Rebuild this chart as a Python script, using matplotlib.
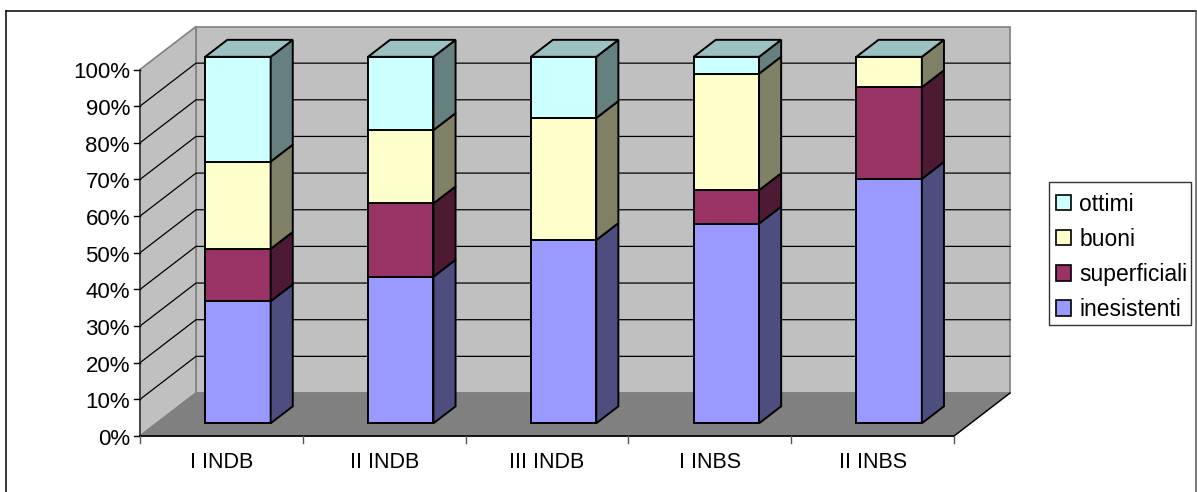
#!/usr/bin/env python3
import numpy as np
import matplotlib
matplotlib.use("Agg")
import matplotlib.pyplot as plt
from matplotlib.patches import Patch, Polygon, Rectangle

plt.rcParams['font.family'] = ['Liberation Sans', 'DejaVu Sans']

categories = ["I INDB", "II INDB", "III INDB", "I INBS", "II INBS"]
inesistenti = [33.3, 40.0, 50.0, 54.5, 66.7]
superficiali = [14.3, 20.0, 0.0, 9.1, 25.0]
buoni = [23.8, 20.0, 33.3, 31.8, 8.3]
ottimi = [28.6, 20.0, 16.7, 4.6, 0.0]

series = [inesistenti, superficiali, buoni, ottimi]
names = ["inesistenti", "superficiali", "buoni", "ottimi"]
front_cols = ["#9999FF", "#993366", "#FFFFCC", "#CCFFFF"]
side_cols = ["#4D4D80", "#4D1A33", "#808066", "#668080"]
top_col = "#9BC2C0"

W, H = 1197, 492
# pixel size of one category / one percent, and where the front origin sits
cat_px = 162.8
pct_px = 3.665
x0_px, y0_px = 140, 436
# full depth of the 3d box in data units
dx = 56 / cat_px
dy = 43 / pct_px
bar_w = 0.402
d0, d1 = 0.295, 0.69


def proj(x, pct, d=0.0):
    return (x + d * dx, pct + d * dy)


def poly(ax, pts, fc, ec, lw, z):
    ax.add_patch(Polygon(pts, closed=True, facecolor=fc, edgecolor=ec,
                         linewidth=lw, zorder=z, joinstyle='miter'))


fig = plt.figure(figsize=(W / 100, H / 100), dpi=100)
ax = fig.add_axes([0, 0, 1, 1])
ax.set_xlim(-x0_px / cat_px, (W - x0_px) / cat_px)
ax.set_ylim((y0_px - H) / pct_px, y0_px / pct_px)
ax.axis('off')

n = len(categories)

# outer frame, its bottom edge is cut off by the image
ax.plot([5.5 / cat_px + ax.get_xlim()[0]] * 2, [ax.get_ylim()[0], (y0_px - 10.5) / pct_px],
        color='black', lw=1.1, zorder=1)
ax.plot([5.5 / cat_px + ax.get_xlim()[0], 1196 / cat_px + ax.get_xlim()[0]],
        [(y0_px - 10.5) / pct_px] * 2, color='black', lw=1.1, zorder=1)
ax.plot([1196 / cat_px + ax.get_xlim()[0]] * 2, [ax.get_ylim()[0], (y0_px - 10.5) / pct_px],
        color='#555555', lw=1.1, zorder=1)

# walls and floor
poly(ax, [proj(0, 0, 1), proj(n, 0, 1), proj(n, 100, 1), proj(0, 100, 1)], '#C0C0C0', '#808080', 1.2, 2)
poly(ax, [proj(0, 0), proj(0, 0, 1), proj(0, 100, 1), proj(0, 100)], '#C0C0C0', '#808080', 1.2, 2)
poly(ax, [proj(0, 0), proj(n, 0), proj(n, 0, 1), proj(0, 0, 1)], '#808080', '#808080', 1.0, 2)
ax.plot(*zip(proj(n, 0), proj(n, 0, 1)), color='black', lw=1.0, zorder=3)

# gridlines on the walls
for pct in range(10, 100, 10):
    ax.plot(*zip(proj(0, pct), proj(0, pct, 1), proj(n, pct, 1)), color='black', lw=0.9, zorder=3)

# value axis
ax.plot(*zip(proj(0, 0), proj(0, 100)), color='#333333', lw=1.1, zorder=4)
for pct in range(0, 101, 10):
    ax.plot([-6 / cat_px, 0], [pct, pct], color='black', lw=1.0, zorder=4)
    ax.text(-10 / cat_px, pct - 3.5 / pct_px, f"{pct}%", ha='right', va='center', fontsize=16, color='black')

# category axis
ax.plot([0, n], [0, 0], color='black', lw=1.2, zorder=4)
for i in range(n + 1):
    ax.plot([i, i], [0, -7 / pct_px], color='#555555', lw=1.0, zorder=4)
for i, cat in enumerate(categories):
    ax.text(i + 0.5, -27 / pct_px, cat, ha='center', va='center', fontsize=15.5, color='black')

# stacked bars, drawn left to right, bottom to top
for i in range(n):
    left = i + 0.5 - bar_w / 2
    right = i + 0.5 + bar_w / 2
    base = 0.0
    for vals, fc, sc in zip(series, front_cols, side_cols):
        top = base + vals[i]
        if vals[i] > 0:
            poly(ax, [proj(left, base, d0), proj(right, base, d0), proj(right, top, d0), proj(left, top, d0)],
                 fc, 'black', 1.4, 5)
            poly(ax, [proj(right, base, d0), proj(right, base, d1), proj(right, top, d1), proj(right, top, d0)],
                 sc, 'black', 1.4, 5)
        base = top
    poly(ax, [proj(left, base, d0), proj(right, base, d0), proj(right, base, d1), proj(left, base, d1)],
         top_col, 'black', 1.4, 5)

# legend box is separate so the entries can sit lower inside it
fig.add_artist(Rectangle((1049 / W, 1 - 325 / H), 142 / W, 143 / H, transform=fig.transFigure,
                         facecolor='white', edgecolor='#333333', linewidth=1.0))
handles = [Patch(facecolor=c, edgecolor='black', linewidth=1.2) for c in front_cols[::-1]]
leg = fig.legend(handles, names[::-1], loc='upper left', bbox_to_anchor=(1050 / W, 1 - 186.5 / H),
                 borderaxespad=0, frameon=False, fontsize=16.5,
                 handlelength=0.65, handleheight=0.65, handletextpad=0.35, labelspacing=0.53,
                 borderpad=0.27)
leg.set_zorder(10)

fig.savefig("out.png", dpi=100)
plt.close(fig)
